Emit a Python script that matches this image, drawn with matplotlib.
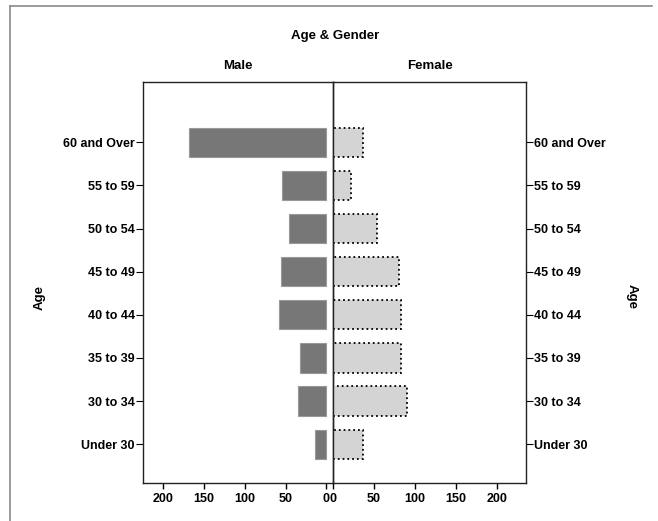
import matplotlib.pyplot as plt
from matplotlib.lines import Line2D

plt.rcParams['font.family'] = ['Liberation Sans', 'DejaVu Sans']
plt.rcParams['font.weight'] = 'bold'

age_groups = ["Under 30", "30 to 34", "35 to 39", "40 to 44",
              "45 to 49", "50 to 54", "55 to 59", "60 and Over"]
male = [14, 35, 33, 58, 56, 46, 54, 168]
female = [36, 90, 83, 83, 80, 54, 22, 37]
x_ticks = [0, 50, 100, 150, 200]

W, H = 658, 521
fig = plt.figure(figsize=(W / 100, H / 100), dpi=100)

def box(x0, x1, y0, y1):
    return [x0 / W, 1 - y1 / H, (x1 - x0) / W, (y1 - y0) / H]

ax_m = fig.add_axes(box(143, 333, 82, 483))
ax_f = fig.add_axes(box(333, 526, 82, 483))
ax_f.patch.set_alpha(0)

y = list(range(len(age_groups)))

ax_m.barh(y, male, height=0.68, color="#777777", edgecolor="#999999", linewidth=0.8)
ax_f.barh(y, female, height=0.68, color="#d4d4d4", edgecolor="black",
          linewidth=1.3, linestyle=":")

ax_m.set_xlim(225, -8)
ax_f.set_xlim(0, 235)
for ax in (ax_m, ax_f):
    ax.set_ylim(-0.9, 8.4)
    ax.set_xticks(x_ticks)
    ax.set_xticklabels([str(v) for v in x_ticks])
    ax.tick_params(axis="x", length=4, width=1, labelsize=9, pad=3, direction="out")
    for s in ax.spines.values():
        s.set_linewidth(1.0)
        s.set_color("#222222")

ax_m.set_yticks(y)
ax_m.set_yticklabels(age_groups)
ax_m.tick_params(axis="y", length=5, labelsize=9, pad=1)

ax_f.yaxis.tick_right()
ax_f.set_yticks(y)
ax_f.set_yticklabels(age_groups)
ax_f.tick_params(axis="y", length=5, labelsize=9, pad=1)

ax_m.set_title("Male", fontsize=9.5, fontweight="bold", pad=9)
ax_f.set_title("Female", fontsize=9.5, fontweight="bold", pad=9)
fig.text(335 / W, 1 - 36 / H, "Age & Gender", ha="center", va="center",
         fontsize=9.5, fontweight="bold")

fig.text(40 / W, 1 - 297 / H, "Age", rotation=90, ha="center", va="center",
         fontsize=9.5, fontweight="bold")
fig.text(632 / W, 1 - 297 / H, "Age", rotation=270, ha="center", va="center",
         fontsize=9.5, fontweight="bold")

# frame around the chart
fig.add_artist(Line2D([10 / W, 652 / W], [1 - 6 / H, 1 - 6 / H], color="#8a8a8a", linewidth=1.2))
fig.add_artist(Line2D([10 / W, 10 / W], [1 - 6 / H, 0], color="#8a8a8a", linewidth=1.2))

fig.savefig("out.png", dpi=100)
